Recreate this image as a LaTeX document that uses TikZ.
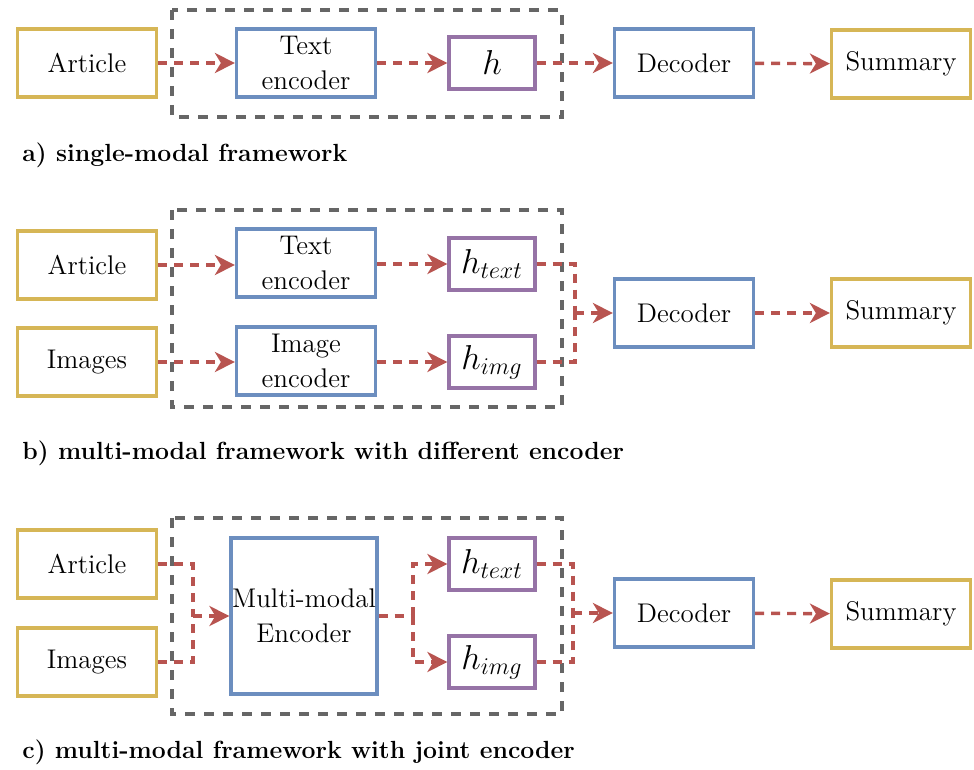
\documentclass[tikz,border=0pt]{standalone}
\usetikzlibrary{arrows.meta}
\definecolor{goldline}{HTML}{D6B656}
\definecolor{blueline}{HTML}{6C8EBF}
\definecolor{purpleline}{HTML}{9673A6}
\definecolor{redline}{HTML}{B85450}
\definecolor{grayline}{HTML}{666666}

\begin{document}
\begin{tikzpicture}[x=0.5pt,y=-0.5pt,
    box/.style={draw, line width=1.6pt, fill=white, align=center,
        font=\fontsize{13.5}{17.5}\selectfont, inner sep=0pt,
        minimum width=69.5pt, minimum height=34pt},
    iobox/.style={box, draw=goldline},
    encbox/.style={box, draw=blueline},
    hbox/.style={box, draw=purpleline, font=\fontsize{16.5}{18}\selectfont,
        minimum width=43pt, minimum height=26pt},
    frame/.style={draw=grayline, line width=1.6pt, dash pattern=on 5pt off 4.5pt},
    conn/.style={draw=redline, line width=1.7pt, dash pattern=on 4.5pt off 3.5pt,
        -{Stealth[length=10pt,width=10pt,inset=3pt]}},
    link/.style={draw=redline, line width=1.7pt, dash pattern=on 4.5pt off 3.5pt},
    caption/.style={anchor=west, inner sep=0pt, font=\fontsize{12.4}{15}\selectfont\bfseries}]
    \useasboundingbox (0,0) rectangle (974,770);

    % a) single-modal
    \draw[frame] (172,10) rectangle (562,117);
    \node[iobox] (arta) at (87,63) {Article};
    \node[encbox] (tenca) at (306,63) {Text\\encoder};
    \node[hbox] (ha) at (492,63) {$h$};
    \node[encbox] (deca) at (684,63) {Decoder};
    \node[iobox] (suma) at (901,64) {Summary};
    \draw[conn] (arta) -- (tenca);
    \draw[conn] (tenca) -- (ha);
    \draw[conn] (ha) -- (deca);
    \draw[conn] (deca) -- (suma);
    \node[caption] (capa) at (22,155) {a) single-modal framework};

    % b) different encoders
    \draw[frame] (172,210) rectangle (562,407);
    \node[iobox] (artb) at (87,265) {Article};
    \node[iobox] (imgb) at (87,362) {Images};
    \node[encbox] (tencb) at (306,263) {Text\\encoder};
    \node[encbox] (iencb) at (306,361) {Image\\encoder};
    \node[hbox] (htb) at (492,264) {$h_{text}$};
    \node[hbox] (hib) at (492,362) {$h_{img}$};
    \node[encbox] (decb) at (684,313) {Decoder};
    \node[iobox] (sumb) at (901,313) {Summary};
    \draw[conn] (artb) -- (tencb.west |- artb);
    \draw[conn] (imgb) -- (iencb.west |- imgb);
    \draw[conn] (tencb.east |- htb) -- (htb);
    \draw[conn] (iencb.east |- hib) -- (hib);
    \draw[link] (htb.east) -| (575,313);
    \draw[link] (hib.east) -| (575,313);
    \draw[conn] (575,313) -- (decb);
    \draw[conn] (decb) -- (sumb);
    \node[caption] (capb) at (22,453) {b) multi-modal framework with different encoder};

    % c) joint encoder
    \draw[frame] (172,518) rectangle (562,714);
    \node[iobox] (artc) at (87,564) {Article};
    \node[iobox] (imgc) at (87,662) {Images};
    \node[encbox, minimum width=73pt, minimum height=78pt] (mmenc) at (304,616) {Multi-modal\\Encoder};
    \node[hbox] (htc) at (492,564) {$h_{text}$};
    \node[hbox] (hic) at (492,662) {$h_{img}$};
    \node[encbox] (decc) at (684,613) {Decoder};
    \node[iobox] (sumc) at (901,614) {Summary};
    \draw[link] (artc.east) -| (193,616);
    \draw[link] (imgc.east) -| (193,616);
    \draw[conn] (193,616) -- (mmenc.west |- 193,616);
    \draw[link] (mmenc.east |- 0,616) -- (413,616);
    \draw[conn] (413,616) |- (htc);
    \draw[conn] (413,616) |- (hic);
    \draw[link] (htc.east) -| (573,613);
    \draw[link] (hic.east) -| (573,613);
    \draw[conn] (573,613) -- (decc);
    \draw[conn] (decc) -- (sumc);
    \node[caption] (capc) at (22,752) {c) multi-modal framework with joint encoder};
\end{tikzpicture}
\end{document}
